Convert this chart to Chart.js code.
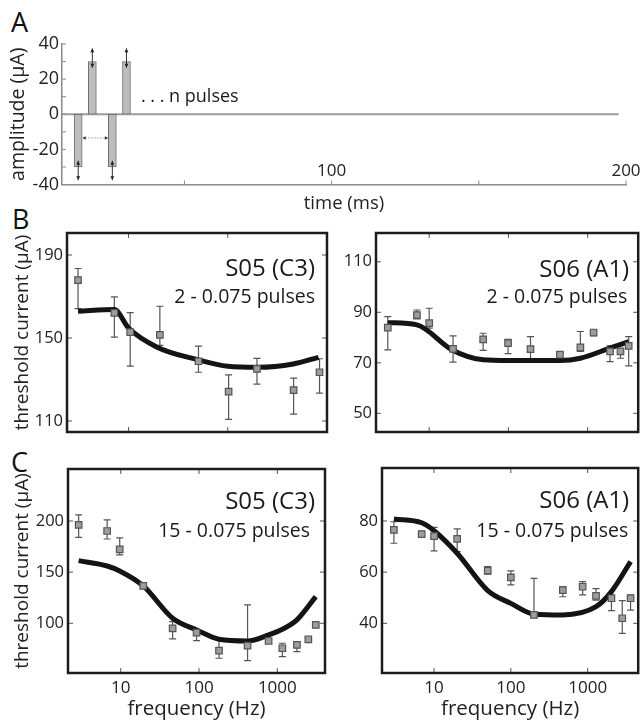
<!DOCTYPE html>
<html><head><meta charset="utf-8">
<script src="https://cdn.jsdelivr.net/npm/chart.js@4.4.1/dist/chart.umd.min.js"></script>
<style>
html,body{margin:0;padding:0;background:#fff;}
body{width:644px;height:721px;position:relative;overflow:hidden;font-family:'Open Sans',sans-serif;}
canvas{position:absolute;}
.lbl{position:absolute;font-size:27px;line-height:27px;color:#111;font-family:'Open Sans',sans-serif;}
</style></head><body>
<div class="lbl" style="left:11px;top:8px">A</div>
<div class="lbl" style="left:12px;top:205px">B</div>
<div class="lbl" style="left:11px;top:448px">C</div>
<script>
const FONT = "'Open Sans', sans-serif";

// ---------- Panel A: stimulus schematic ----------
const pulseTimes = [13.9, 18.7, 25.5, 30.3];
const pulseAmps = [-30, 30, -30, 30];
const baselineTimes = [8.4, 197.5];
const baselineAmps = [0, 0];
const arrowInner = [-26.5, 26.5, -26.5, 26.5];
const arrowOuter = [-37.5, 37.5, -37.5, 37.5];
const intervalArrowTimes = [15.3, 24.1];
const intervalArrowAmp = -13.5;
const pulseNote = '. . . n pulses';
const pulseNoteTime = 35.2;
const pulseNoteAmp = 7;
const aYTicks = [-40, -30, -20, -10, 0, 10, 20, 30, 40];
const aYLabels = ['-40', '', '-20', '', '0', '', '20', '', '40'];
const aXTicks = [50, 100, 150, 200];
const aXLabels = ['', '100', '', '200'];

// ---------- Panel B left: S05 (C3), 2 - 0.075 pulses ----------
const blFreq = [3.1, 7.2, 10.4, 20.7, 50.7, 102, 197, 461, 841];
const blMean = [177.9, 162.1, 152.8, 151.5, 138.8, 124.2, 135.1, 124.9, 133.5];
const blHi   = [183.5, 169.8, 162.2, 165.3, 146.1, 132.2, 140.2, 130.7, 140.0];
const blLo   = [164.2, 150.4, 136.4, 146.4, 133.5, 110.8, 127.8, 113.3, 123.4];
const blModelFreq = [3.1, 7.2, 10, 19.4, 49.5, 100, 202, 457, 822];
const blModel     = [162.9, 163.7, 154.8, 145.6, 139.6, 136.4, 135.9, 137.5, 140.7];
const blYTicks = [110, 150, 190];

// ---------- Panel B right: S06 (A1), 2 - 0.075 pulses ----------
const brFreq = [3.0, 7.0, 10, 20, 48, 99, 190, 447, 810, 1190, 1920, 2600, 3300];
const brMean = [83.9, 88.9, 85.7, 75.5, 79.3, 77.8, 75.4, 73.2, 76.1, 82.0, 74.5, 74.5, 76.7];
const brHi   = [88.3, 90.9, 91.6, 80.7, 81.7, 79.3, 80.4, 74.1, 82.4, 82.8, 76.7, 75.4, 80.4];
const brLo   = [75.1, 87.4, 83.7, 70.3, 74.9, 73.6, 70.9, 71.8, 74.5, 80.7, 70.5, 71.8, 68.8];
const brModelFreq = [3, 7, 19.5, 48, 100, 190, 450, 810, 1900, 3300];
const brModel     = [85.9, 85.0, 75.1, 71.2, 70.9, 70.9, 70.9, 71.8, 75.8, 78.4];
const brYTicks = [50, 70, 90, 110];

// ---------- Panel C left: S05 (C3), 15 - 0.075 pulses ----------
const clFreq = [2.9, 6.7, 9.7, 19.4, 46, 93, 180, 417, 774, 1160, 1780, 2490, 3100];
const clMean = [196.1, 190.2, 172.3, 136.5, 95.1, 90.9, 73.3, 78.2, 82.7, 75.6, 78.8, 84.4, 98.4];
const clHi   = [205.9, 201.0, 183.4, 138.0, 101.6, 94.1, 83.7, 117.9, 84.4, 80.5, 82.1, 86.3, 100.0];
const clLo   = [184.0, 182.4, 166.8, 134.2, 84.7, 83.1, 65.8, 63.5, 80.5, 67.4, 72.3, 81.1, 96.7];
const clModelFreq = [2.9, 6.7, 9.7, 19.4, 46, 93, 180, 417, 774, 1160, 1780, 3100];
const clModel     = [161.2, 156.0, 151.1, 136.5, 104.9, 93.5, 84.4, 82.7, 88.6, 94.1, 103.3, 126.0];
const clYTicks = [100, 150, 200];

// ---------- Panel C right: S06 (A1), 15 - 0.075 pulses ----------
const crFreq = [3.0, 6.9, 10, 20, 50, 100, 200, 475, 860, 1285, 2040, 2820, 3620];
const crMean = [76.5, 74.9, 74.1, 73.0, 60.6, 58.0, 43.3, 53.0, 54.3, 50.7, 49.8, 42.0, 49.8];
const crHi   = [79.7, 75.4, 77.5, 76.9, 62.2, 60.5, 57.6, 54.3, 56.3, 53.6, 51.1, 48.9, 51.1];
const crLo   = [71.3, 74.1, 68.3, 68.0, 59.2, 55.0, 42.7, 50.4, 51.1, 49.1, 45.0, 36.1, 45.2];
const crModelFreq = [3.0, 6.9, 10, 20, 50, 100, 200, 475, 1285, 2040, 3620];
const crModel     = [80.8, 79.3, 76.2, 67.4, 52.8, 47.8, 43.6, 43.3, 46.5, 52.4, 64.1];
const crYTicks = [40, 60, 80];

const freqTicks = [10, 100, 1000];
const freqTickLabels = ['10', '100', '1000'];

function makeCanvas(left, top, w, h) {
  const c = document.createElement('canvas');
  c.width = w; c.height = h;
  c.style.left = left + 'px'; c.style.top = top + 'px';
  c.style.width = w + 'px'; c.style.height = h + 'px';
  document.body.appendChild(c);
  return c;
}

function framePlugin(box, color, len, boxColor, boxWidth) {
  return {
    id: 'frame',
    afterDatasetsDraw(chart) {
      const ctx = chart.ctx, a = chart.chartArea;
      const sx = chart.scales.x, sy = chart.scales.y;
      ctx.save();
      ctx.strokeStyle = color; ctx.lineWidth = 1;
      ctx.beginPath();
      sx.ticks.forEach(t => {
        const p = sx.getPixelForValue(t.value);
        ctx.moveTo(p, a.bottom); ctx.lineTo(p, a.bottom - len);
        if (box) { ctx.moveTo(p, a.top); ctx.lineTo(p, a.top + len); }
      });
      sy.ticks.forEach(t => {
        const p = sy.getPixelForValue(t.value);
        ctx.moveTo(a.left, p); ctx.lineTo(a.left + len, p);
        if (box) { ctx.moveTo(a.right, p); ctx.lineTo(a.right - len, p); }
      });
      ctx.stroke();
      if (box) {
        ctx.strokeStyle = boxColor; ctx.lineWidth = boxWidth;
        ctx.strokeRect(a.left, a.top, a.right - a.left, a.bottom - a.top);
      }
      ctx.restore();
    }
  };
}

function errorBarPlugin(xs, lo, hi) {
  return {
    id: 'errbars',
    beforeDatasetsDraw(chart) {
      const ctx = chart.ctx, sx = chart.scales.x, sy = chart.scales.y;
      ctx.save();
      ctx.strokeStyle = '#555'; ctx.lineWidth = 1.2;
      ctx.beginPath();
      xs.forEach((f, i) => {
        const px = sx.getPixelForValue(f);
        const y1 = sy.getPixelForValue(hi[i]), y2 = sy.getPixelForValue(lo[i]);
        ctx.moveTo(px, y1); ctx.lineTo(px, y2);
        ctx.moveTo(px - 3.5, y1); ctx.lineTo(px + 3.5, y1);
        ctx.moveTo(px - 3.5, y2); ctx.lineTo(px + 3.5, y2);
      });
      ctx.stroke();
      ctx.restore();
    }
  };
}

function textPlugin(items) {
  return {
    id: 'paneltext',
    afterDraw(chart) {
      const ctx = chart.ctx, a = chart.chartArea;
      ctx.save();
      ctx.fillStyle = '#1a1a1a';
      ctx.textAlign = 'right'; ctx.textBaseline = 'alphabetic';
      items.forEach(it => {
        ctx.font = it.size + 'px ' + FONT;
        ctx.fillText(it.text, a.right - it.dx, a.top + it.dy);
      });
      ctx.restore();
    }
  };
}

function arrowHead(ctx, x, y, dx, dy, s) {
  const px = -dy, py = dx;
  ctx.beginPath();
  ctx.moveTo(x, y);
  ctx.lineTo(x - dx * s * 1.4 + px * s * 0.7, y - dy * s * 1.4 + py * s * 0.7);
  ctx.lineTo(x - dx * s * 1.4 - px * s * 0.7, y - dy * s * 1.4 - py * s * 0.7);
  ctx.closePath();
  ctx.fill();
}

const panelAPlugin = {
  id: 'panelA',
  afterDatasetsDraw(chart) {
    const ctx = chart.ctx, sx = chart.scales.x, sy = chart.scales.y, a = chart.chartArea;
    ctx.save();
    ctx.strokeStyle = '#333'; ctx.fillStyle = '#222'; ctx.lineWidth = 1;
    pulseTimes.forEach((t, i) => {
      const px = sx.getPixelForValue(t);
      const yi = sy.getPixelForValue(arrowInner[i]), yo = sy.getPixelForValue(arrowOuter[i]);
      ctx.beginPath(); ctx.moveTo(px, yi); ctx.lineTo(px, yo); ctx.stroke();
      const dirO = yo < yi ? -1 : 1;
      arrowHead(ctx, px, yo, 0, dirO, 2.8);
      arrowHead(ctx, px, yi, 0, -dirO, 2.8);
    });
    const x1 = sx.getPixelForValue(intervalArrowTimes[0]), x2 = sx.getPixelForValue(intervalArrowTimes[1]);
    const ya = sy.getPixelForValue(intervalArrowAmp);
    ctx.strokeStyle = '#999'; ctx.setLineDash([1.5, 1.5]);
    ctx.beginPath(); ctx.moveTo(x1 + 3, ya); ctx.lineTo(x2 - 3, ya); ctx.stroke();
    ctx.setLineDash([]);
    ctx.fillStyle = '#333';
    arrowHead(ctx, x1, ya, -1, 0, 2.4);
    arrowHead(ctx, x2, ya, 1, 0, 2.4);
    ctx.fillStyle = '#1a1a1a';
    ctx.font = '18px ' + FONT; ctx.textAlign = 'left'; ctx.textBaseline = 'alphabetic';
    ctx.fillText(pulseNote, sx.getPixelForValue(pulseNoteTime), sy.getPixelForValue(pulseNoteAmp));
    // x tick labels sit above the time axis in the reference
    ctx.font = '17px ' + FONT; ctx.textAlign = 'center'; ctx.textBaseline = 'middle';
    ctx.fillStyle = '#222';
    sx.ticks.forEach((t, i) => {
      if (aXLabels[i]) ctx.fillText(aXLabels[i], sx.getPixelForValue(t.value), a.bottom - 13.5);
    });
    ctx.restore();
  }
};

// ----- Panel A chart -----
(function () {
  const area = { l: 62, t: 44, r: 626, b: 184.5 };
  const yw = 62, xh = 36.5, padT = 44, padR = 18;
  const left = area.l - yw, top = area.t - padT;
  const w = area.r + padR - left, h = area.b + xh - top;
  const c = makeCanvas(left, top, w, h);
  new Chart(c, {
    type: 'bar',
    data: {
      datasets: [
        {
          type: 'bar',
          data: pulseTimes.map((t, i) => ({ x: t, y: [0, pulseAmps[i]] })),
          backgroundColor: '#bdbdbd', borderColor: '#707070', borderWidth: 1,
          borderSkipped: false, barThickness: 8
        },
        {
          type: 'line',
          data: baselineTimes.map((t, i) => ({ x: t, y: baselineAmps[i] })),
          borderColor: '#9c9c9c', borderWidth: 2, pointRadius: 0
        }
      ]
    },
    options: {
      responsive: false, animation: false,
      layout: { padding: { left: 0, top: padT, right: padR, bottom: 0 } },
      plugins: { legend: { display: false }, tooltip: { enabled: false } },
      scales: {
        x: {
          type: 'linear', min: 8.4, max: 200, bounds: 'data', offset: false,
          grid: { display: false, drawTicks: false },
          border: { display: true, color: '#8a8a8a', width: 1.5 },
          afterBuildTicks: s => { s.ticks = aXTicks.map(v => ({ value: v })); },
          ticks: { display: false },
          title: { display: true, text: 'time (ms)', color: '#222',
                   font: { family: FONT, size: 18.5 }, padding: { top: 0, bottom: 6 } },
          afterFit: s => { s.height = xh; s.paddingLeft = 0; s.paddingRight = 0; }
        },
        y: {
          type: 'linear', min: -40, max: 40, bounds: 'data',
          grid: { display: false, drawTicks: false },
          border: { display: true, color: '#8a8a8a', width: 1.5 },
          afterBuildTicks: s => { s.ticks = aYTicks.map(v => ({ value: v })); },
          ticks: { padding: 3, autoSkip: false, color: '#222',
                   font: { family: FONT, size: 18 }, callback: (v, i) => aYLabels[i] },
          title: { display: true, text: 'amplitude (μA)', color: '#222',
                   font: { family: FONT, size: 19.5 }, padding: { top: 7, bottom: 0 } },
          afterFit: s => { s.width = yw; s.paddingTop = 0; s.paddingBottom = 0; }
        }
      }
    },
    plugins: [framePlugin(false, '#8a8a8a', 4, '#000', 0), panelAPlugin]
  });
})();

function freqPanel(p) {
  const a = p.area;
  const left = a.l - p.yw, top = a.t - p.padT;
  const w = a.r + p.padR - left, h = a.b + p.xh - top;
  const c = makeCanvas(left, top, w, h);
  new Chart(c, {
    type: 'line',
    data: {
      datasets: [
        {
          data: p.freq.map((f, i) => ({ x: f, y: p.mean[i] })),
          showLine: false, pointStyle: 'rect', pointRadius: 4.6,
          pointBackgroundColor: '#9d9d9d', pointBorderColor: '#555', pointBorderWidth: 1.2
        },
        {
          data: p.mFreq.map((f, i) => ({ x: f, y: p.model[i] })),
          borderColor: '#141414', borderWidth: 5, pointRadius: 0,
          cubicInterpolationMode: 'monotone', borderJoinStyle: 'round', borderCapStyle: 'butt'
        }
      ]
    },
    options: {
      responsive: false, animation: false,
      layout: { padding: { left: 0, top: p.padT, right: p.padR, bottom: 0 } },
      plugins: { legend: { display: false }, tooltip: { enabled: false } },
      scales: {
        x: {
          type: 'logarithmic', min: p.xMin, max: p.xMax, bounds: 'data',
          grid: { display: false, drawTicks: false }, border: { display: false },
          afterBuildTicks: s => { s.ticks = freqTicks.map(v => ({ value: v })); },
          ticks: { display: p.showX, padding: 4.5, autoSkip: false, maxRotation: 0, color: '#222',
                   font: { family: FONT, size: 17 }, callback: (v, i) => freqTickLabels[i] },
          title: { display: p.showX, text: 'frequency (Hz)', color: '#222',
                   font: { family: FONT, size: 20.5 }, padding: { top: 0, bottom: 0 } },
          afterFit: s => { s.height = p.xh; s.paddingLeft = 0; s.paddingRight = 0; }
        },
        y: {
          type: 'linear', min: p.yMin, max: p.yMax, bounds: 'data',
          grid: { display: false, drawTicks: false }, border: { display: false },
          afterBuildTicks: s => { s.ticks = p.yTicks.map(v => ({ value: v })); },
          ticks: { padding: 4, autoSkip: false, color: '#222', font: { family: FONT, size: 16.5 } },
          title: { display: p.yTitle, text: 'threshold current (μA)', color: '#222',
                   font: { family: FONT, size: 19 }, padding: { top: 11, bottom: 0 } },
          afterFit: s => { s.width = p.yw; s.paddingTop = 0; s.paddingBottom = 0; }
        }
      }
    },
    plugins: [errorBarPlugin(p.freq, p.lo, p.hi), framePlugin(true, '#555', 5, '#1c1c1c', 2.5), textPlugin(p.texts)]
  });
}

freqPanel({
  area: { l: 67, t: 233, r: 327, b: 432 }, yw: 67, xh: 8, padT: 8, padR: 8,
  freq: blFreq, mean: blMean, lo: blLo, hi: blHi, mFreq: blModelFreq, model: blModel,
  xMin: 2.4, xMax: 1000, yMin: 104.7, yMax: 200.6, yTicks: blYTicks, showX: false, yTitle: true,
  texts: [{ text: 'S05 (C3)', size: 24, dx: 12, dy: 43 }, { text: '2 - 0.075 pulses', size: 19.5, dx: 12, dy: 70 }]
});
freqPanel({
  area: { l: 376, t: 233, r: 642, b: 432 }, yw: 45, xh: 8, padT: 8, padR: 2,
  freq: brFreq, mean: brMean, lo: brLo, hi: brHi, mFreq: brModelFreq, model: brModel,
  xMin: 2.13, xMax: 4350, yMin: 42.6, yMax: 121.4, yTicks: brYTicks, showX: false, yTitle: false,
  texts: [{ text: 'S06 (A1)', size: 24, dx: 9, dy: 44 }, { text: '2 - 0.075 pulses', size: 19.5, dx: 11, dy: 70 }]
});
freqPanel({
  area: { l: 68, t: 469, r: 325, b: 673 }, yw: 68, xh: 48, padT: 8, padR: 8,
  freq: clFreq, mean: clMean, lo: clLo, hi: clHi, mFreq: clModelFreq, model: clModel,
  xMin: 2.12, xMax: 4065, yMin: 51.4, yMax: 250.8, yTicks: clYTicks, showX: true, yTitle: true,
  texts: [{ text: 'S05 (C3)', size: 24, dx: 10, dy: 40 }, { text: '15 - 0.075 pulses', size: 19.5, dx: 15, dy: 68 }]
});
freqPanel({
  area: { l: 382, t: 468, r: 643, b: 673 }, yw: 45, xh: 48, padT: 8, padR: 1,
  freq: crFreq, mean: crMean, lo: crLo, hi: crHi, mFreq: crModelFreq, model: crModel,
  xMin: 2.10, xMax: 4550, yMin: 20.6, yMax: 100.7, yTicks: crYTicks, showX: true, yTitle: false,
  texts: [{ text: 'S06 (A1)', size: 24, dx: 9, dy: 40 }, { text: '15 - 0.075 pulses', size: 19.5, dx: 10, dy: 69 }]
});
</script>
</body></html>
